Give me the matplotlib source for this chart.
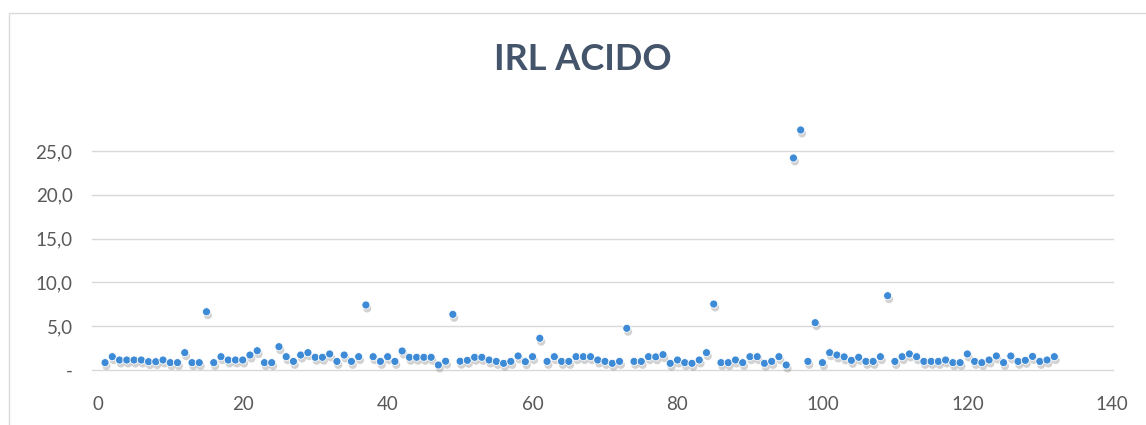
import matplotlib
matplotlib.use("Agg")
import matplotlib.pyplot as plt
import matplotlib.patheffects as pe
from matplotlib.patches import Rectangle

# Sample number and IRL (acid) value per sample
sample = list(range(1, 133))
irl_acido = [
    0.84, 1.52, 1.14, 1.14, 1.14, 1.14, 0.95, 0.95, 1.14, 0.84,
    0.84, 1.98, 0.84, 0.84, 6.65, 0.84, 1.52, 1.14, 1.14, 1.14,
    1.71, 2.20, 0.84, 0.84, 2.66, 1.52, 0.98, 1.71, 1.98, 1.45,
    1.45, 1.83, 0.98, 1.71, 0.98, 1.52, 7.42, 1.52, 0.98, 1.52,
    0.98, 2.17, 1.45, 1.45, 1.45, 1.45, 0.57, 1.00, 6.35, 1.00,
    1.10, 1.45, 1.45, 1.14, 0.98, 0.76, 0.98, 1.60, 0.95, 1.52,
    3.62, 0.98, 1.52, 0.98, 0.98, 1.52, 1.52, 1.52, 1.14, 0.98,
    0.76, 0.98, 4.76, 0.98, 0.98, 1.52, 1.50, 1.75, 0.76, 1.14,
    0.84, 0.76, 1.14, 1.98, 7.53, 0.84, 0.84, 1.14, 0.84, 1.52,
    1.52, 0.76, 0.98, 1.52, 0.57, 24.2, 27.4, 0.98, 5.40, 0.84,
    1.98, 1.71, 1.50, 1.10, 1.45, 0.98, 0.98, 1.52, 8.48, 0.98,
    1.52, 1.83, 1.52, 0.98, 0.98, 0.98, 1.14, 0.84, 0.84, 1.83,
    0.98, 0.84, 1.14, 1.60, 0.84, 1.60, 0.98, 1.10, 1.55, 0.98,
    1.14, 1.52,
]

y_ticks = [0, 5, 10, 15, 20, 25]
y_tick_labels = ["-", "5,0", "10,0", "15,0", "20,0", "25,0"]
x_ticks = [0, 20, 40, 60, 80, 100, 120, 140]

W, H = 1146, 425
fig = plt.figure(figsize=(W / 100, H / 100), dpi=100)
fig.patch.set_facecolor("white")

# chart frame
fig.add_artist(Rectangle((9 / W, -0.1), 1.2, (H - 13) / H + 0.1,
                         transform=fig.transFigure, fill=False,
                         edgecolor="#D9D9D9", lw=1.0))

left, right = 92, 1113
bottom, top = 370, 107.2
ax = fig.add_axes([left / W, (H - bottom) / H, (right - left) / W, (bottom - top) / H])
ax.set_facecolor("none")

ax.plot(sample, irl_acido, linestyle="none", marker="o", ms=5.8,
        mfc="#3D8AD6", mec="white", mew=0.6, zorder=3, clip_on=False,
        path_effects=[pe.SimplePatchShadow(offset=(1.0, -2.5), shadow_rgbFace="#7F7F7F", alpha=0.35),
                      pe.Normal()])

ax.set_xlim(-0.8, 140.1)
ax.set_ylim(0, 30)
ax.set_yticks(y_ticks)
ax.set_yticklabels(y_tick_labels)
ax.set_xticks(x_ticks)

for s in ax.spines.values():
    s.set_visible(False)
for yv in y_ticks:
    ax.axhline(yv, color="#D9D9D9", lw=1.0, zorder=1, clip_on=False)

ax.tick_params(axis="both", length=0, labelsize=13.5, labelcolor="#595959")
ax.tick_params(axis="y", pad=14)
ax.tick_params(axis="x", pad=19)
for lab in ax.get_xticklabels() + ax.get_yticklabels():
    lab.set_family("Lato")

fig.text(583 / W, 1 - 60 / H, "IRL ACIDO", ha="center", va="center",
         fontsize=26, fontweight="bold", color="#44546A", family="Lato")

fig.savefig("out.png", dpi=100)
